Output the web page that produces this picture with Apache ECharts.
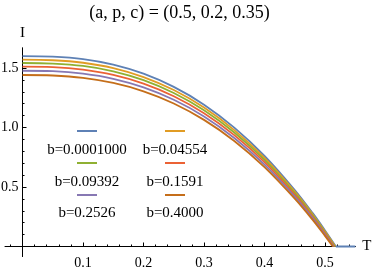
<!DOCTYPE html>
<html><head><meta charset="utf-8">
<script src="https://cdn.jsdelivr.net/npm/echarts@6/dist/echarts.min.js"></script>
<style>html,body{margin:0;padding:0;background:#fff}#c{width:374px;height:272px}</style>
</head><body><div id="c"></div>
<script>
// ---- data ----
const titleText = '(a, p, c) = (0.5, 0.2, 0.35)';
const seriesNames = ['b=0.0001000', 'b=0.04554', 'b=0.09392', 'b=0.1591', 'b=0.2526', 'b=0.4000'];
const T = [0, 0.05, 0.1, 0.15, 0.2, 0.25, 0.3, 0.35, 0.4, 0.45, 0.48, 0.5];
const Tc = [0.518, 0.517, 0.516, 0.515, 0.514, 0.513];
const I_b0 = [1.600, 1.595, 1.574, 1.528, 1.452, 1.341, 1.192, 0.999, 0.762, 0.475, 0.278, 0.135];
const I_b1 = [1.570, 1.565, 1.544, 1.499, 1.424, 1.315, 1.168, 0.978, 0.744, 0.461, 0.267, 0.126];
const I_b2 = [1.542, 1.537, 1.517, 1.472, 1.398, 1.290, 1.145, 0.958, 0.727, 0.448, 0.257, 0.118];
const I_b3 = [1.511, 1.507, 1.486, 1.442, 1.369, 1.263, 1.120, 0.936, 0.709, 0.434, 0.246, 0.109];
const I_b4 = [1.477, 1.473, 1.452, 1.409, 1.337, 1.233, 1.093, 0.912, 0.688, 0.419, 0.234, 0.099];
const I_b5 = [1.441, 1.437, 1.417, 1.374, 1.304, 1.202, 1.064, 0.887, 0.667, 0.402, 0.221, 0.089];
const tailT = [0.518, 0.55];
const tailI = [0, 0];
const xMajorTicks = [0.1, 0.2, 0.3, 0.4, 0.5];
const xMinorTicks = [-0.02, 0.02, 0.04, 0.06, 0.08, 0.12, 0.14, 0.16, 0.18, 0.22, 0.24, 0.26, 0.28,
  0.32, 0.34, 0.36, 0.38, 0.42, 0.44, 0.46, 0.48, 0.52, 0.54];
const yMajorTicks = [0.5, 1.0, 1.5];
const yMinorTicks = [0.1, 0.2, 0.3, 0.4, 0.6, 0.7, 0.8, 0.9, 1.1, 1.2, 1.3, 1.4, 1.6];

// ---- styling ----
const colors = ['#5E81B5', '#E19C24', '#8FB032', '#EB6235', '#8778B3', '#C56E1A'];
const FONT = '"Liberation Serif", "Times New Roman", serif';
const allI = [I_b0, I_b1, I_b2, I_b3, I_b4, I_b5];
const legendPos = [[77, 130], [165, 130], [77, 162], [165, 162], [77, 194], [165, 194]];
const labelPos = [[87, 150], [175, 150], [87, 182], [175, 182], [87, 213.5], [175, 213.5]];

const series = allI.map((arr, k) => ({
  name: seriesNames[k], type: 'line', smooth: 0.35, symbol: 'none',
  xAxisIndex: 0, yAxisIndex: 0,
  data: T.map((t, i) => [t, arr[i]]).concat([[Tc[k], 0]]),
  lineStyle: { color: colors[k], width: 1.8 }, itemStyle: { color: colors[k] }, z: 3
}));
series.push({
  name: 'tail', type: 'line', symbol: 'none', xAxisIndex: 0, yAxisIndex: 0,
  data: tailT.map((t, i) => [t, tailI[i]]),
  lineStyle: { color: colors[0], width: 1.8 }, z: 3
});

const legends = seriesNames.map((n, k) => ({
  data: [n], left: legendPos[k][0], top: legendPos[k][1], padding: 0,
  itemWidth: 20, itemHeight: 2, icon: 'rect', selectedMode: false,
  formatter: () => '', textStyle: { fontSize: 1, lineHeight: 2 }
}));

const graphics = [{
  type: 'text', x: 179.5, y: 13.5,
  style: { text: titleText, fontFamily: FONT, fontSize: 18, fill: '#000', align: 'center', verticalAlign: 'middle' }
}].concat(seriesNames.map((n, k) => ({
  type: 'text', x: labelPos[k][0], y: labelPos[k][1],
  style: { text: n, fontFamily: FONT, fontSize: 15, fill: '#000', align: 'center', verticalAlign: 'middle' }
})));

const xMin = -0.029, xMax = 0.55, yMin = -0.085, yMax = 1.668;
const lineSt = { color: '#000', width: 1 };
const option = {
  animation: false,
  backgroundColor: '#fff',
  grid: [
    // grid 0: full plot range incl. the small negative stubs; axes cross at the origin
    { left: 5, right: 18.75, top: 48, bottom: 15.4, containLabel: false, outerBoundsMode: 'none' },
    // grid 1: from the origin; carries labelled major ticks and axis names
    { left: 22.5, right: 18.75, top: 48, bottom: 25.5, containLabel: false, outerBoundsMode: 'none' }
  ],
  legend: legends,
  graphic: graphics,
  xAxis: [{
    gridIndex: 0, type: 'value', min: xMin, max: xMax, position: 'bottom',
    axisLine: { onZero: true, lineStyle: lineSt },
    axisTick: { show: true, inside: true, length: 2, customValues: xMinorTicks, lineStyle: lineSt },
    axisLabel: { show: false }, splitLine: { show: false }
  }, {
    gridIndex: 1, type: 'value', min: 0, max: xMax, position: 'bottom',
    axisLine: { onZero: false, lineStyle: lineSt },
    axisTick: { show: true, inside: true, length: 4, customValues: xMajorTicks, lineStyle: lineSt },
    axisLabel: { customValues: xMajorTicks, formatter: v => v.toFixed(1), fontFamily: FONT, fontSize: 14, color: '#000', margin: 10 },
    splitLine: { show: false },
    name: 'T', nameLocation: 'end', nameGap: 7,
    nameTextStyle: { fontFamily: FONT, fontSize: 15, color: '#000' }
  }],
  yAxis: [{
    gridIndex: 0, type: 'value', min: yMin, max: yMax, position: 'left',
    axisLine: { onZero: true, lineStyle: lineSt },
    axisTick: { show: true, inside: true, length: 2, customValues: yMinorTicks, lineStyle: lineSt },
    axisLabel: { show: false }, splitLine: { show: false }
  }, {
    gridIndex: 1, type: 'value', min: 0, max: yMax, position: 'left',
    axisLine: { onZero: false, lineStyle: lineSt },
    axisTick: { show: true, inside: true, length: 4, customValues: yMajorTicks, lineStyle: lineSt },
    axisLabel: { customValues: yMajorTicks, formatter: v => v.toFixed(1), fontFamily: FONT, fontSize: 14, color: '#000', margin: 4 },
    splitLine: { show: false },
    name: 'I', nameLocation: 'end', nameGap: 7,
    nameTextStyle: { fontFamily: FONT, fontSize: 15, color: '#000' }
  }],
  series: series
};
const chart = echarts.init(document.getElementById('c'), null, { renderer: 'canvas' });
chart.setOption(option);
</script>
</body></html>
